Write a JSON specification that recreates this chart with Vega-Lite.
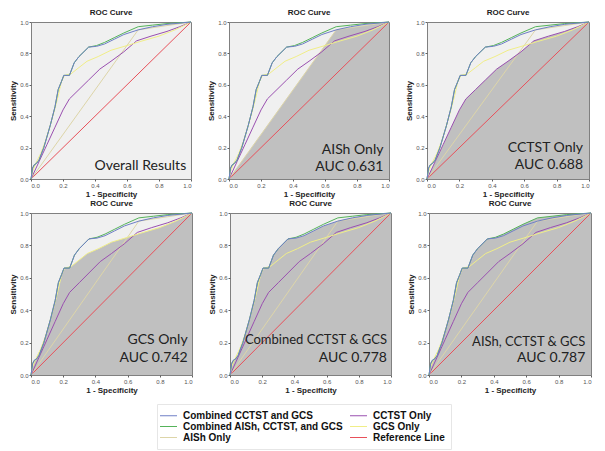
{
  "$schema": "https://vega.github.io/schema/vega-lite/v6.json",
  "background": "white",
  "padding": {"left": 9, "top": 8, "right": 4, "bottom": 2},
  "datasets": {
    "curves": [
      {"curve": "Reference Line", "x": 0, "y": 0},
      {"curve": "Reference Line", "x": 1, "y": 1},
      {"curve": "AISh Only", "x": 0, "y": 0},
      {"curve": "AISh Only", "x": 0.67, "y": 0.95},
      {"curve": "AISh Only", "x": 1, "y": 1},
      {"curve": "CCTST Only", "x": 0, "y": 0},
      {"curve": "CCTST Only", "x": 0.05, "y": 0.11},
      {"curve": "CCTST Only", "x": 0.1, "y": 0.22},
      {"curve": "CCTST Only", "x": 0.15, "y": 0.33},
      {"curve": "CCTST Only", "x": 0.2, "y": 0.44},
      {"curve": "CCTST Only", "x": 0.24, "y": 0.51},
      {"curve": "CCTST Only", "x": 0.3, "y": 0.57},
      {"curve": "CCTST Only", "x": 0.36, "y": 0.63},
      {"curve": "CCTST Only", "x": 0.43, "y": 0.7},
      {"curve": "CCTST Only", "x": 0.5, "y": 0.75},
      {"curve": "CCTST Only", "x": 0.58, "y": 0.81},
      {"curve": "CCTST Only", "x": 0.66, "y": 0.88},
      {"curve": "CCTST Only", "x": 0.75, "y": 0.91},
      {"curve": "CCTST Only", "x": 0.85, "y": 0.94},
      {"curve": "CCTST Only", "x": 0.93, "y": 0.97},
      {"curve": "CCTST Only", "x": 1, "y": 1},
      {"curve": "GCS Only", "x": 0, "y": 0},
      {"curve": "GCS Only", "x": 0.01, "y": 0.05},
      {"curve": "GCS Only", "x": 0.03, "y": 0.1},
      {"curve": "GCS Only", "x": 0.06, "y": 0.16},
      {"curve": "GCS Only", "x": 0.09, "y": 0.24},
      {"curve": "GCS Only", "x": 0.12, "y": 0.34},
      {"curve": "GCS Only", "x": 0.15, "y": 0.45},
      {"curve": "GCS Only", "x": 0.17, "y": 0.53},
      {"curve": "GCS Only", "x": 0.19, "y": 0.62},
      {"curve": "GCS Only", "x": 0.21, "y": 0.66},
      {"curve": "GCS Only", "x": 0.25, "y": 0.67},
      {"curve": "GCS Only", "x": 0.3, "y": 0.71},
      {"curve": "GCS Only", "x": 0.35, "y": 0.75},
      {"curve": "GCS Only", "x": 0.42, "y": 0.78},
      {"curve": "GCS Only", "x": 0.5, "y": 0.82},
      {"curve": "GCS Only", "x": 0.6, "y": 0.85},
      {"curve": "GCS Only", "x": 0.68, "y": 0.875},
      {"curve": "GCS Only", "x": 0.8, "y": 0.91},
      {"curve": "GCS Only", "x": 0.9, "y": 0.95},
      {"curve": "GCS Only", "x": 1, "y": 1},
      {"curve": "Combined AISh, CCTST, and GCS", "x": 0, "y": 0},
      {"curve": "Combined AISh, CCTST, and GCS", "x": 0.01, "y": 0.07},
      {"curve": "Combined AISh, CCTST, and GCS", "x": 0.02, "y": 0.09},
      {"curve": "Combined AISh, CCTST, and GCS", "x": 0.035, "y": 0.1},
      {"curve": "Combined AISh, CCTST, and GCS", "x": 0.05, "y": 0.12},
      {"curve": "Combined AISh, CCTST, and GCS", "x": 0.08, "y": 0.2},
      {"curve": "Combined AISh, CCTST, and GCS", "x": 0.12, "y": 0.34},
      {"curve": "Combined AISh, CCTST, and GCS", "x": 0.15, "y": 0.46},
      {"curve": "Combined AISh, CCTST, and GCS", "x": 0.17, "y": 0.57},
      {"curve": "Combined AISh, CCTST, and GCS", "x": 0.19, "y": 0.62},
      {"curve": "Combined AISh, CCTST, and GCS", "x": 0.205, "y": 0.66},
      {"curve": "Combined AISh, CCTST, and GCS", "x": 0.24, "y": 0.66},
      {"curve": "Combined AISh, CCTST, and GCS", "x": 0.27, "y": 0.74},
      {"curve": "Combined AISh, CCTST, and GCS", "x": 0.3, "y": 0.78},
      {"curve": "Combined AISh, CCTST, and GCS", "x": 0.36, "y": 0.84},
      {"curve": "Combined AISh, CCTST, and GCS", "x": 0.41, "y": 0.85},
      {"curve": "Combined AISh, CCTST, and GCS", "x": 0.46, "y": 0.87},
      {"curve": "Combined AISh, CCTST, and GCS", "x": 0.52, "y": 0.9},
      {"curve": "Combined AISh, CCTST, and GCS", "x": 0.58, "y": 0.93},
      {"curve": "Combined AISh, CCTST, and GCS", "x": 0.67, "y": 0.97},
      {"curve": "Combined AISh, CCTST, and GCS", "x": 0.76, "y": 0.98},
      {"curve": "Combined AISh, CCTST, and GCS", "x": 0.85, "y": 0.99},
      {"curve": "Combined AISh, CCTST, and GCS", "x": 1, "y": 1},
      {"curve": "Combined CCTST and GCS", "x": 0, "y": 0},
      {"curve": "Combined CCTST and GCS", "x": 0.01, "y": 0.07},
      {"curve": "Combined CCTST and GCS", "x": 0.02, "y": 0.09},
      {"curve": "Combined CCTST and GCS", "x": 0.035, "y": 0.1},
      {"curve": "Combined CCTST and GCS", "x": 0.05, "y": 0.12},
      {"curve": "Combined CCTST and GCS", "x": 0.08, "y": 0.2},
      {"curve": "Combined CCTST and GCS", "x": 0.12, "y": 0.34},
      {"curve": "Combined CCTST and GCS", "x": 0.15, "y": 0.46},
      {"curve": "Combined CCTST and GCS", "x": 0.17, "y": 0.57},
      {"curve": "Combined CCTST and GCS", "x": 0.19, "y": 0.62},
      {"curve": "Combined CCTST and GCS", "x": 0.205, "y": 0.66},
      {"curve": "Combined CCTST and GCS", "x": 0.24, "y": 0.66},
      {"curve": "Combined CCTST and GCS", "x": 0.27, "y": 0.74},
      {"curve": "Combined CCTST and GCS", "x": 0.3, "y": 0.78},
      {"curve": "Combined CCTST and GCS", "x": 0.36, "y": 0.84},
      {"curve": "Combined CCTST and GCS", "x": 0.41, "y": 0.845},
      {"curve": "Combined CCTST and GCS", "x": 0.46, "y": 0.86},
      {"curve": "Combined CCTST and GCS", "x": 0.52, "y": 0.89},
      {"curve": "Combined CCTST and GCS", "x": 0.58, "y": 0.92},
      {"curve": "Combined CCTST and GCS", "x": 0.67, "y": 0.95},
      {"curve": "Combined CCTST and GCS", "x": 0.76, "y": 0.97},
      {"curve": "Combined CCTST and GCS", "x": 0.85, "y": 0.985},
      {"curve": "Combined CCTST and GCS", "x": 1, "y": 1}
    ]
  },
  "config": {
    "font": "Liberation Sans",
    "view": {"fill": "#f0f0f0", "stroke": "#808080", "strokeWidth": 1},
    "axis": {
      "grid": false,
      "domain": false,
      "tickSize": 2,
      "tickColor": "#606060",
      "labelFontSize": 6,
      "labelColor": "#555555",
      "labelPadding": 1,
      "titleFontSize": 8,
      "titleFontWeight": "bold",
      "titleColor": "#222222",
      "titlePadding": 2,
      "values": [0, 0.2, 0.4, 0.6, 0.8, 1],
      "format": ".1f"
    },
    "title": {"fontSize": 8, "fontWeight": "bold", "color": "#222222", "offset": 2},
    "line": {"strokeWidth": 1},
    "text": {"font": "Lato", "fontSize": 14, "color": "#222222", "align": "right", "baseline": "alphabetic"}
  },
  "spacing": 0,
  "vconcat": [
    {
      "spacing": 13,
      "hconcat": [
        {
          "width": 160, "height": 157, "title": "ROC Curve",
          "layer": [
            {"data": {"name": "curves"}, "mark": "line",
             "encoding": {
               "x": {"field": "x", "type": "quantitative", "scale": {"domain": [0, 1]}, "title": "1 - Specificity"},
               "y": {"field": "y", "type": "quantitative", "scale": {"domain": [0, 1]}, "title": "Sensitivity"},
               "color": {"field": "curve", "type": "nominal",
                 "scale": {"domain": ["Combined CCTST and GCS", "Combined AISh, CCTST, and GCS", "AISh Only", "CCTST Only", "GCS Only", "Reference Line"],
                           "range": ["#6f7fc6", "#55b35a", "#ddd5a8", "#9a50b0", "#f0ee88", "#e8505a"]},
                 "legend": {"title": null, "orient": "none", "legendX": 126, "legendY": 382, "columns": 2, "columnPadding": 4, "rowPadding": -1, "symbolType": "M-1.7,0L1.7,0", "symbolSize": 100, "symbolStrokeWidth": 2, "labelOffset": 9, "labelLimit": 400, "labelFontSize": 10, "labelFontWeight": "bold", "labelColor": "#111111", "labelFont": "Liberation Sans", "padding": 6, "strokeColor": "#e6e6e6", "fillColor": "white"}}
             }},
            {"data": {"values": [{"label": "Overall Results"}]}, "mark": "text",
             "encoding": {"x": {"datum": 0.97, "type": "quantitative"}, "y": {"datum": 0.06, "type": "quantitative"}, "text": {"field": "label"}}}
          ]
        },
        {
          "width": 160, "height": 157, "title": "ROC Curve",
          "layer": [
            {"data": {"name": "curves"}, "transform": [{"filter": "datum.curve === 'AISh Only'"}], "mark": {"type": "area", "color": "#c0c0c0", "opacity": 1},
             "encoding": {"x": {"field": "x", "type": "quantitative"}, "y": {"field": "y", "type": "quantitative"}}},
            {"data": {"name": "curves"}, "mark": "line",
             "encoding": {
               "x": {"field": "x", "type": "quantitative", "scale": {"domain": [0, 1]}, "title": "1 - Specificity"},
               "y": {"field": "y", "type": "quantitative", "scale": {"domain": [0, 1]}, "title": "Sensitivity"},
               "color": {"field": "curve", "type": "nominal"}
             }},
            {"data": {"values": [{"label": "AISh Only"}]}, "mark": "text",
             "encoding": {"x": {"datum": 0.965, "type": "quantitative"}, "y": {"datum": 0.16, "type": "quantitative"}, "text": {"field": "label"}}},
            {"data": {"values": [{"label": "AUC 0.631"}]}, "mark": "text",
             "encoding": {"x": {"datum": 0.965, "type": "quantitative"}, "y": {"datum": 0.05, "type": "quantitative"}, "text": {"field": "label"}}}
          ]
        },
        {
          "width": 162, "height": 157, "title": "ROC Curve",
          "layer": [
            {"data": {"name": "curves"}, "transform": [{"filter": "datum.curve === 'CCTST Only'"}], "mark": {"type": "area", "color": "#c0c0c0", "opacity": 1},
             "encoding": {"x": {"field": "x", "type": "quantitative"}, "y": {"field": "y", "type": "quantitative"}}},
            {"data": {"name": "curves"}, "mark": "line",
             "encoding": {
               "x": {"field": "x", "type": "quantitative", "scale": {"domain": [0, 1]}, "title": "1 - Specificity"},
               "y": {"field": "y", "type": "quantitative", "scale": {"domain": [0, 1]}, "title": "Sensitivity"},
               "color": {"field": "curve", "type": "nominal"}
             }},
            {"data": {"values": [{"label": "CCTST Only"}]}, "mark": "text",
             "encoding": {"x": {"datum": 0.963, "type": "quantitative"}, "y": {"datum": 0.174, "type": "quantitative"}, "text": {"field": "label"}}},
            {"data": {"values": [{"label": "AUC 0.688"}]}, "mark": "text",
             "encoding": {"x": {"datum": 0.963, "type": "quantitative"}, "y": {"datum": 0.063, "type": "quantitative"}, "text": {"field": "label"}}}
          ]
        }
      ]
    },
    {
      "spacing": 13,
      "hconcat": [
        {
          "width": 161, "height": 162, "title": "ROC Curve",
          "layer": [
            {"data": {"name": "curves"}, "transform": [{"filter": "datum.curve === 'GCS Only'"}], "mark": {"type": "area", "color": "#c0c0c0", "opacity": 1},
             "encoding": {"x": {"field": "x", "type": "quantitative"}, "y": {"field": "y", "type": "quantitative"}}},
            {"data": {"name": "curves"}, "mark": "line",
             "encoding": {
               "x": {"field": "x", "type": "quantitative", "scale": {"domain": [0, 1]}, "title": "1 - Specificity"},
               "y": {"field": "y", "type": "quantitative", "scale": {"domain": [0, 1]}, "title": "Sensitivity"},
               "color": {"field": "curve", "type": "nominal"}
             }},
            {"data": {"values": [{"label": "GCS Only"}]}, "mark": "text",
             "encoding": {"x": {"datum": 0.973, "type": "quantitative"}, "y": {"datum": 0.19, "type": "quantitative"}, "text": {"field": "label"}}},
            {"data": {"values": [{"label": "AUC 0.742"}]}, "mark": "text",
             "encoding": {"x": {"datum": 0.973, "type": "quantitative"}, "y": {"datum": 0.08, "type": "quantitative"}, "text": {"field": "label"}}}
          ]
        },
        {
          "width": 161, "height": 162, "title": "ROC Curve",
          "layer": [
            {"data": {"name": "curves"}, "transform": [{"filter": "datum.curve === 'Combined CCTST and GCS'"}], "mark": {"type": "area", "color": "#c0c0c0", "opacity": 1},
             "encoding": {"x": {"field": "x", "type": "quantitative"}, "y": {"field": "y", "type": "quantitative"}}},
            {"data": {"name": "curves"}, "mark": "line",
             "encoding": {
               "x": {"field": "x", "type": "quantitative", "scale": {"domain": [0, 1]}, "title": "1 - Specificity"},
               "y": {"field": "y", "type": "quantitative", "scale": {"domain": [0, 1]}, "title": "Sensitivity"},
               "color": {"field": "curve", "type": "nominal"}
             }},
            {"data": {"values": [{"label": "Combined CCTST & GCS"}]}, "mark": {"type": "text", "fontSize": 13},
             "encoding": {"x": {"datum": 0.975, "type": "quantitative"}, "y": {"datum": 0.19, "type": "quantitative"}, "text": {"field": "label"}}},
            {"data": {"values": [{"label": "AUC 0.778"}]}, "mark": "text",
             "encoding": {"x": {"datum": 0.975, "type": "quantitative"}, "y": {"datum": 0.08, "type": "quantitative"}, "text": {"field": "label"}}}
          ]
        },
        {
          "width": 162, "height": 162, "title": "ROC Curve",
          "layer": [
            {"data": {"name": "curves"}, "transform": [{"filter": "datum.curve === 'Combined AISh, CCTST, and GCS'"}], "mark": {"type": "area", "color": "#c0c0c0", "opacity": 1},
             "encoding": {"x": {"field": "x", "type": "quantitative"}, "y": {"field": "y", "type": "quantitative"}}},
            {"data": {"name": "curves"}, "mark": "line",
             "encoding": {
               "x": {"field": "x", "type": "quantitative", "scale": {"domain": [0, 1]}, "title": "1 - Specificity"},
               "y": {"field": "y", "type": "quantitative", "scale": {"domain": [0, 1]}, "title": "Sensitivity"},
               "color": {"field": "curve", "type": "nominal"}
             }},
            {"data": {"values": [{"label": "AISh, CCTST & GCS"}]}, "mark": {"type": "text", "fontSize": 13},
             "encoding": {"x": {"datum": 0.965, "type": "quantitative"}, "y": {"datum": 0.18, "type": "quantitative"}, "text": {"field": "label"}}},
            {"data": {"values": [{"label": "AUC 0.787"}]}, "mark": "text",
             "encoding": {"x": {"datum": 0.965, "type": "quantitative"}, "y": {"datum": 0.078, "type": "quantitative"}, "text": {"field": "label"}}}
          ]
        }
      ]
    }
  ]
}
